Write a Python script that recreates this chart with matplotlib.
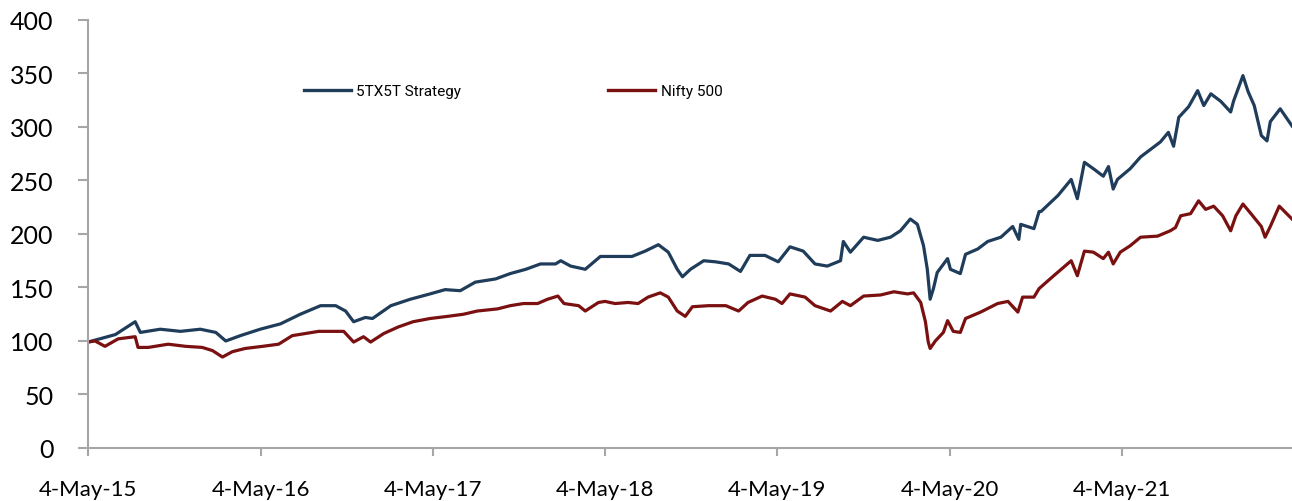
import pandas as pd
import matplotlib.pyplot as plt
import matplotlib.dates as mdates

# values
strategy_dates = [
    "2015-05-04", "2015-05-29", "2015-07-01", "2015-08-12", "2015-08-23", "2015-10-04",
    "2015-11-16", "2015-12-28", "2016-01-30", "2016-02-20", "2016-03-22", "2016-05-03",
    "2016-06-15", "2016-07-27", "2016-09-08", "2016-10-10", "2016-10-31", "2016-11-17",
    "2016-12-12", "2016-12-27", "2017-02-04", "2017-03-17", "2017-04-28", "2017-05-30",
    "2017-07-01", "2017-08-02", "2017-09-14", "2017-10-15", "2017-11-17", "2017-12-18",
    "2018-01-19", "2018-01-30", "2018-02-20", "2018-03-23", "2018-04-24", "2018-06-01",
    "2018-06-30", "2018-07-28", "2018-08-25", "2018-09-15", "2018-10-04", "2018-10-15",
    "2018-11-01", "2018-11-29", "2018-12-24", "2019-01-21", "2019-02-15", "2019-03-07",
    "2019-04-08", "2019-05-06", "2019-05-31", "2019-06-28", "2019-07-23", "2019-08-18",
    "2019-09-15", "2019-09-21", "2019-10-06", "2019-11-03", "2019-12-03", "2019-12-30",
    "2020-01-20", "2020-02-10", "2020-02-25", "2020-03-09", "2020-03-17", "2020-03-23",
    "2020-03-30", "2020-04-07", "2020-04-29", "2020-05-05", "2020-05-26", "2020-06-06",
    "2020-07-02", "2020-07-23", "2020-08-20", "2020-09-14", "2020-09-27", "2020-10-01",
    "2020-10-29", "2020-11-09", "2020-11-13", "2020-12-19", "2021-01-16", "2021-01-29",
    "2021-02-13", "2021-03-04", "2021-03-25", "2021-04-05", "2021-04-15", "2021-04-24",
    "2021-05-21", "2021-06-12", "2021-07-03", "2021-07-24", "2021-08-10", "2021-08-21",
    "2021-09-01", "2021-09-22", "2021-10-11", "2021-10-24", "2021-11-08", "2021-11-29",
    "2021-12-20", "2021-12-26", "2022-01-15", "2022-01-26", "2022-02-08", "2022-02-23",
    "2022-03-07", "2022-03-14", "2022-04-04", "2022-04-29",
]
strategy_values = [
    99, 102, 106, 118, 108, 111,
    109, 111, 108, 100, 105, 111,
    116, 125, 133, 133, 128, 118,
    122, 121, 133, 139, 144, 148,
    147, 155, 158, 163, 167, 172,
    172, 175, 170, 167, 179, 179,
    179, 184, 190, 183, 167, 160,
    167, 175, 174, 172, 165, 180,
    180, 174, 188, 184, 172, 170,
    175, 193, 183, 197, 194, 197,
    203, 214, 209, 189, 167, 139,
    149, 164, 177, 167, 163, 181,
    186, 193, 197, 207, 195, 209,
    205, 221, 221, 236, 251, 233,
    267, 261, 254, 263, 242, 251,
    261, 272, 279, 286, 295, 282,
    309, 319, 334, 320, 331, 324,
    314, 324, 348, 333, 320, 292,
    287, 305, 317, 301,
]

nifty_dates = [
    "2015-05-04", "2015-05-19", "2015-06-09", "2015-07-07", "2015-08-12", "2015-08-18",
    "2015-09-09", "2015-10-21", "2015-11-27", "2016-01-01", "2016-01-23", "2016-02-13",
    "2016-03-05", "2016-04-01", "2016-05-08", "2016-06-11", "2016-07-10", "2016-08-07",
    "2016-09-04", "2016-10-04", "2016-10-27", "2016-11-17", "2016-12-08", "2016-12-23",
    "2017-01-20", "2017-02-19", "2017-03-23", "2017-04-28", "2017-06-04", "2017-07-08",
    "2017-08-06", "2017-09-18", "2017-10-15", "2017-11-12", "2017-12-12", "2018-01-02",
    "2018-01-24", "2018-02-06", "2018-03-09", "2018-03-23", "2018-04-20", "2018-05-04",
    "2018-05-25", "2018-06-22", "2018-07-13", "2018-08-03", "2018-08-29", "2018-09-15",
    "2018-10-04", "2018-10-21", "2018-11-05", "2018-12-09", "2019-01-15", "2019-02-11",
    "2019-03-03", "2019-04-02", "2019-04-30", "2019-05-14", "2019-05-31", "2019-07-02",
    "2019-07-23", "2019-08-25", "2019-09-19", "2019-10-06", "2019-11-03", "2019-12-09",
    "2020-01-06", "2020-02-04", "2020-02-17", "2020-03-03", "2020-03-13", "2020-03-19",
    "2020-03-23", "2020-04-03", "2020-04-20", "2020-04-29", "2020-05-11", "2020-05-26",
    "2020-06-06", "2020-07-08", "2020-08-13", "2020-09-04", "2020-09-25", "2020-10-05",
    "2020-10-29", "2020-11-09", "2020-12-10", "2021-01-16", "2021-01-29", "2021-02-13",
    "2021-03-04", "2021-03-25", "2021-04-05", "2021-04-15", "2021-04-30", "2021-05-21",
    "2021-06-12", "2021-07-18", "2021-08-14", "2021-08-25", "2021-09-05", "2021-09-26",
    "2021-10-13", "2021-10-28", "2021-11-14", "2021-12-03", "2021-12-20", "2021-12-31",
    "2022-01-15", "2022-02-01", "2022-02-23", "2022-03-03", "2022-03-14", "2022-04-02",
    "2022-04-29",
]
nifty_values = [
    99, 100, 95, 102, 104, 94,
    94, 97, 95, 94, 91, 85,
    90, 93, 95, 97, 105, 107,
    109, 109, 109, 99, 104, 99,
    107, 113, 118, 121, 123, 125,
    128, 130, 133, 135, 135, 139,
    142, 135, 133, 128, 136, 137,
    135, 136, 135, 141, 145, 141,
    128, 123, 132, 133, 133, 128,
    136, 142, 139, 135, 144, 141,
    133, 128, 137, 133, 142, 143,
    146, 144, 145, 136, 118, 99,
    93, 100, 108, 119, 109, 108,
    121, 127, 135, 137, 127, 141,
    141, 149, 161, 175, 161, 184,
    183, 177, 183, 172, 183, 189,
    197, 198, 203, 206, 217, 219,
    231, 223, 226, 217, 203, 217,
    228, 219, 207, 197, 207, 226,
    214,
]

tick_dates = ["2015-05-04", "2016-05-04", "2017-05-04", "2018-05-04",
              "2019-05-04", "2020-05-04", "2021-05-04"]

strategy = pd.Series(strategy_values, index=pd.to_datetime(strategy_dates))
nifty = pd.Series(nifty_values, index=pd.to_datetime(nifty_dates))
ticks = pd.to_datetime(tick_dates)

blue = "#1F3D5A"
red = "#7A1010"
axis_grey = "#A6A6A6"

fig = plt.figure(figsize=(12.92, 5.02), dpi=100)
ax = fig.add_axes([0.0681, 0.1056, 0.9319, 0.8526])

ax.plot(strategy.index, strategy.values, color=blue, lw=2.3, label="5TX5T Strategy")
ax.plot(nifty.index, nifty.values, color=red, lw=2.3, label="Nifty 500")

ax.set_ylim(0, 400)
ax.set_yticks(range(0, 401, 50))
ax.set_xlim(strategy.index[0], strategy.index[-1])
ax.set_xticks(ticks)
ax.xaxis.set_major_formatter(mdates.DateFormatter("%-d-%b-%y"))

for side in ["top", "right"]:
    ax.spines[side].set_visible(False)
for side in ["left", "bottom"]:
    ax.spines[side].set_color(axis_grey)
    ax.spines[side].set_linewidth(1.5)

ax.tick_params(axis="y", direction="out", length=7, width=1.5, color=axis_grey,
               pad=18, labelsize=18, labelcolor="black")
ax.tick_params(axis="x", direction="out", length=6, width=1.5, color=axis_grey,
               pad=16, labelsize=16, labelcolor="black")
for lab in ax.get_xticklabels() + ax.get_yticklabels():
    lab.set_family("Lato")

leg = ax.legend(loc="center left", bbox_to_anchor=(0.235, 0.8167),
                bbox_transform=fig.transFigure, ncol=2, frameon=False,
                borderpad=0, borderaxespad=0, handlelength=3.1,
                handletextpad=0.35, columnspacing=9.6,
                prop={"family": "Roboto", "size": 11})
for line in leg.get_lines():
    line.set_linewidth(2.4)

fig.savefig("out.png", dpi=100)
